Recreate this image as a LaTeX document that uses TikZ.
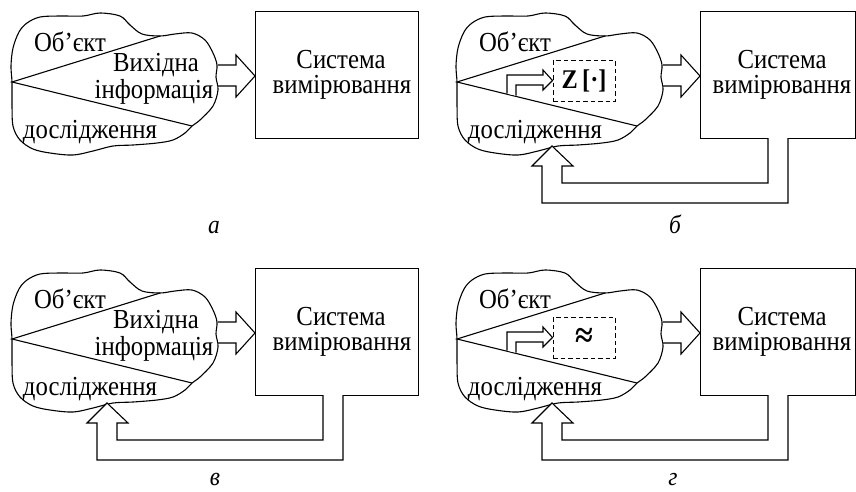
\documentclass[tikz,border=0pt]{standalone}
\usepackage{fontspec}
\setmainfont{Liberation Serif}[FakeStretch=0.9]
\newcommand\drawcloud{%
  \draw[ln] plot[smooth cycle, tension=0.55] coordinates {
    (12,82) (11,66) (13,48) (19,32) (27,23) (40,17) (60,16) (83,16) (100,13)
    (120,16) (130,25) (142,34) (160,36) (175,34) (192,33) (205,40) (213,53)
    (217,65) (216,77) (218,90) (213,106) (200,120) (192,126) (185,133)
    (173,140) (157,143) (133,145) (113,146) (93,151) (73,155) (50,153)
    (33,149) (20,140) (13,126) (12,103)};}
\begin{document}
\begin{tikzpicture}[x=1pt,y=-1pt,
  ln/.style={line width=1.1pt, line join=miter},
  txt/.style={font=\fontsize{27.5}{27}\selectfont, inner sep=0pt, anchor=base},
  figcap/.style={font=\fontsize{26}{26}\selectfont\itshape, inner sep=0pt, anchor=base},
  sysbox/.style={draw, line width=1.1pt, inner sep=0pt, anchor=north west},
  dbox/.style={draw, dashed, line width=1pt, dash pattern=on 4.5pt off 3pt, inner sep=0pt,
     minimum width=62pt, minimum height=41pt},
  hollow/.style={ln, fill=white}]
\useasboundingbox (0,0) rectangle (856,491);
\fill[white] (0,0) rectangle (856,491);

% ---------- panel a ----------
\begin{scope}
  \drawcloud
  \coordinate (tipA) at (12,82);
  \coordinate (upA) at (160,36);
  \coordinate (loA) at (192,126);
  \draw[ln] (upA) -- (tipA) -- (loA);
  \node[txt] (objA) at (70,51) {Об’єкт};
  \node[txt] (vyhA) at (156,71.5) {Вихідна};
  \node[txt] (infA) at (154,98) {інформація};
  \node[txt] (dosA) at (90,138) {дослідження};
  \node[sysbox, minimum width=163pt, minimum height=127pt] (sysA) at (255,11) {};
  \node[txt] (sysT1A) at (341,68) {Система};
  \node[txt] (sysT2A) at (342,93) {вимірювання};
  \draw[hollow] (218,65) -- (236,65) -- (236,55) -- (sysA.west |- 0,76) -- (236,97) -- (236,86) -- (218,86);
  \node[figcap] (capA) at (214,233) {а};
\end{scope}

% ---------- panel b ----------
\begin{scope}[xshift=445pt]
  \drawcloud
  \coordinate (tipB) at (12,82);
  \coordinate (upB) at (160,36);
  \coordinate (loB) at (192,126);
  \draw[ln] (upB) -- (tipB) -- (loB);
  \node[txt] (objB) at (70,51) {Об’єкт};
  \node[txt] (dosB) at (90,138) {дослідження};
  \node[dbox] (zB) at (139,80.5) {};
  \node[font=\fontsize{27}{27}\selectfont\bfseries, inner sep=0pt] (zTB) at (zB.center) {Z\,[·]};
  \draw[hollow] (62,93.6) -- (62,75) -- (98,75) -- (98,70) -- (zB.west) -- (98,90) -- (98,85) -- (71,85) -- (71,95.7);
  \node[sysbox, minimum width=155pt, minimum height=127pt] (sysB) at (255,11) {};
  \node[txt] (sysT1B) at (337,68) {Система};
  \node[txt] (sysT2B) at (337,93) {вимірювання};
  \draw[hollow] (218,65) -- (236,65) -- (236,55) -- (sysB.west |- 0,76) -- (236,97) -- (236,86) -- (218,86);
  \coordinate (fbB) at (107,146);
  \draw[hollow] (323,138) -- (323,183) -- (117,183) -- (117,166) -- (128,166) -- (fbB) -- (87,166) -- (97,166) -- (97,203) -- (343,203) -- (343,138);
  \node[figcap] (capB) at (230,233) {б};
\end{scope}

% ---------- panel v ----------
\begin{scope}[yshift=-257pt]
  \drawcloud
  \coordinate (tipC) at (12,82);
  \coordinate (upC) at (160,36);
  \coordinate (loC) at (192,126);
  \draw[ln] (upC) -- (tipC) -- (loC);
  \node[txt] (objC) at (70,51) {Об’єкт};
  \node[txt] (vyhC) at (156,71.5) {Вихідна};
  \node[txt] (infC) at (154,98) {інформація};
  \node[txt] (dosC) at (90,138) {дослідження};
  \node[sysbox, minimum width=163pt, minimum height=127pt] (sysC) at (255,11) {};
  \node[txt] (sysT1C) at (341,68) {Система};
  \node[txt] (sysT2C) at (342,93) {вимірювання};
  \draw[hollow] (218,65) -- (236,65) -- (236,55) -- (sysC.west |- 0,76) -- (236,97) -- (236,86) -- (218,86);
  \coordinate (fbC) at (107,146);
  \draw[hollow] (323,138) -- (323,183) -- (117,183) -- (117,166) -- (128,166) -- (fbC) -- (87,166) -- (97,166) -- (97,203) -- (343,203) -- (343,138);
  \node[figcap] (capC) at (215,228) {в};
\end{scope}

% ---------- panel g ----------
\begin{scope}[xshift=445pt, yshift=-257pt]
  \drawcloud
  \coordinate (tipD) at (12,82);
  \coordinate (upD) at (160,36);
  \coordinate (loD) at (192,126);
  \draw[ln] (upD) -- (tipD) -- (loD);
  \node[txt] (objD) at (70,51) {Об’єкт};
  \node[txt] (dosD) at (90,138) {дослідження};
  \node[dbox] (zD) at (139,80.5) {};
  \node[font=\fontsize{36}{36}\selectfont\bfseries, inner sep=0pt] (zTD) at (zD.center) {≈};
  \draw[hollow] (62,93.6) -- (62,75) -- (98,75) -- (98,70) -- (zD.west) -- (98,90) -- (98,85) -- (71,85) -- (71,95.7);
  \node[sysbox, minimum width=155pt, minimum height=127pt] (sysD) at (255,11) {};
  \node[txt] (sysT1D) at (337,68) {Система};
  \node[txt] (sysT2D) at (337,93) {вимірювання};
  \draw[hollow] (218,65) -- (236,65) -- (236,55) -- (sysD.west |- 0,76) -- (236,97) -- (236,86) -- (218,86);
  \coordinate (fbD) at (107,146);
  \draw[hollow] (323,138) -- (323,183) -- (117,183) -- (117,166) -- (128,166) -- (fbD) -- (87,166) -- (97,166) -- (97,203) -- (343,203) -- (343,138);
  \node[figcap] (capD) at (228,228) {г};
\end{scope}
\end{tikzpicture}
\end{document}
